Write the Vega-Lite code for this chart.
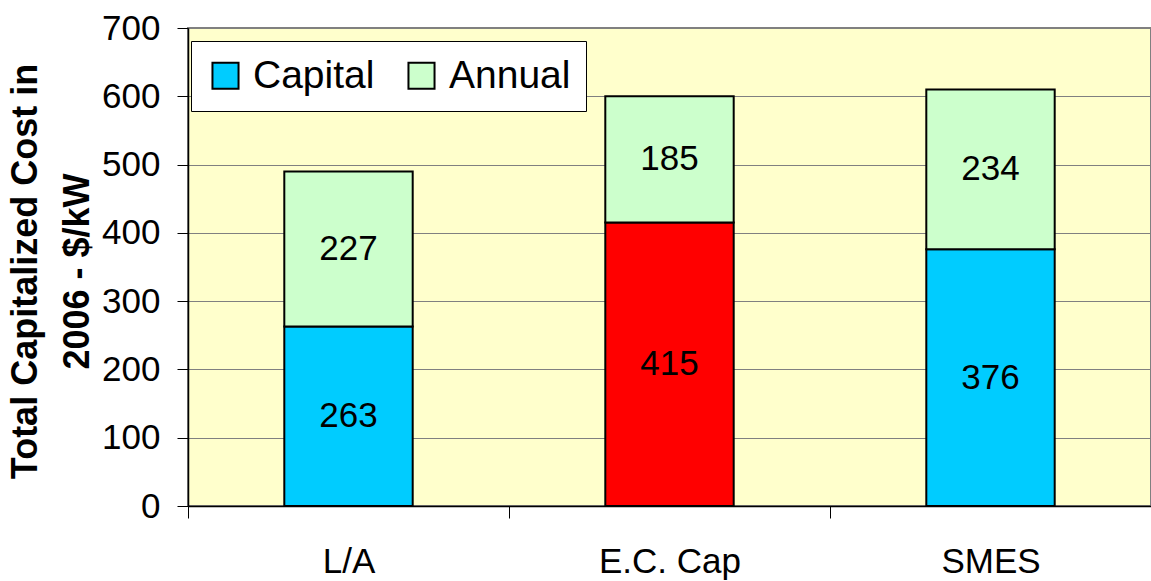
{
  "$schema": "https://vega.github.io/schema/vega-lite/v6.json",
  "autosize": {"type": "none"},
  "padding": {"left": 188, "top": 28, "right": 0, "bottom": 75},
  "width": 963,
  "height": 478,
  "background": "white",
  "config": {
    "font": "Liberation Sans",
    "view": {"fill": "#FFFFCC", "stroke": "#808080", "strokeWidth": 2}
  },
  "data": {
    "values": [
      {"tech": "L/A", "part": "Capital", "key": "Capital", "value": 263},
      {"tech": "L/A", "part": "Annual", "key": "Annual", "value": 227},
      {"tech": "E.C. Cap", "part": "Capital", "key": "Capital (E.C. Cap)", "value": 415},
      {"tech": "E.C. Cap", "part": "Annual", "key": "Annual", "value": 185},
      {"tech": "SMES", "part": "Capital", "key": "Capital", "value": 376},
      {"tech": "SMES", "part": "Annual", "key": "Annual", "value": 234}
    ]
  },
  "transform": [
    {"stack": "value", "groupby": ["tech"], "sort": [{"field": "part", "order": "descending"}], "as": ["v0", "v1"]},
    {"calculate": "(datum.v0 + datum.v1) / 2", "as": "mid"}
  ],
  "encoding": {
    "x": {
      "field": "tech",
      "type": "nominal",
      "sort": ["L/A", "E.C. Cap", "SMES"],
      "scale": {"paddingInner": 0.6, "paddingOuter": 0.3},
      "axis": {
        "title": null,
        "labelAngle": 0,
        "labelFontSize": 35,
        "labelColor": "black",
        "labelPadding": 26,
        "tickOffset": -160.5,
        "labelOffset": 160.5,
        "tickSize": 12,
        "tickColor": "black",
        "tickWidth": 1,
        "domainColor": "black",
        "domainWidth": 1.5,
        "grid": false
      }
    }
  },
  "layer": [
    {
      "mark": {"type": "bar", "stroke": "black", "strokeWidth": 2},
      "encoding": {
        "y": {
          "field": "v0",
          "type": "quantitative",
          "scale": {"domain": [0, 700], "nice": false},
          "axis": {
            "values": [0, 100, 200, 300, 400, 500, 600, 700],
            "title": ["Total Capitalized Cost in", "2006 - $/kW"],
            "titleFontSize": 36,
            "titleFontWeight": "bold",
            "titleColor": "black",
            "titleAngle": -90,
            "titleAlign": "center",
            "titleBaseline": "alphabetic",
            "titleLineHeight": 52,
            "titleX": -152,
            "titleY": 243,
            "labelFontSize": 35,
            "labelColor": "black",
            "labelPadding": 17,
            "tickSize": 11,
            "tickColor": "black",
            "domainColor": "black",
            "domainWidth": 1.5,
            "grid": true,
            "gridColor": "#808080",
            "gridWidth": 1
          }
        },
        "y2": {"field": "v1"},
        "color": {
          "field": "key",
          "type": "nominal",
          "scale": {
            "domain": ["Capital", "Annual", "Capital (E.C. Cap)"],
            "range": ["#00CCFF", "#CCFFCC", "#FF0000"]
          },
          "legend": {
            "values": ["Capital", "Annual"],
            "title": null,
            "orient": "none",
            "legendX": 3,
            "legendY": 13,
            "direction": "horizontal",
            "columns": 2,
            "fillColor": "white",
            "strokeColor": "black",
            "padding": 15,
            "columnPadding": 27,
            "labelFontSize": 39,
            "labelColor": "black",
            "labelOffset": 8,
            "symbolType": "square",
            "symbolSize": 680,
            "symbolStrokeColor": "black",
            "symbolStrokeWidth": 2,
            "symbolOpacity": 1
          }
        }
      }
    },
    {
      "mark": {"type": "text", "fontSize": 35, "color": "black", "baseline": "middle", "align": "center"},
      "encoding": {
        "y": {"field": "mid", "type": "quantitative"},
        "text": {"field": "value", "type": "quantitative"}
      }
    }
  ]
}
